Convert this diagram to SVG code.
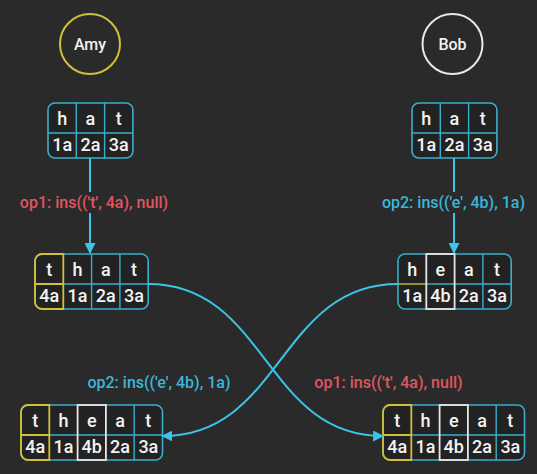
<svg xmlns="http://www.w3.org/2000/svg" width="537" height="474" viewBox="0 0 537 474">
<defs>
<style>
.bg{fill:#2a2a2a}
.tbl{fill:#222222;stroke:#3aafcc;stroke-width:1.6}
.div{stroke:#3aafcc;stroke-width:1.4;fill:none}
.ylw{fill:none;stroke:#d2bf3a;stroke-width:1.8}
.wht{fill:none;stroke:#e6e6e6;stroke-width:1.8}
.ch{font-family:Roboto,"Liberation Sans",sans-serif;font-weight:500;font-size:18px;fill:#f2f2f2;text-anchor:middle}
.name{font-family:Roboto,"Liberation Sans",sans-serif;font-weight:500;font-size:16px;fill:#f2f2f2;text-anchor:middle}
.lbl{font-family:Roboto,"Liberation Sans",sans-serif;font-weight:500;font-size:16px;text-anchor:middle}
.red{fill:#e0565e}
.blu{fill:#3bb6da}
.arr{stroke:#3cc4e8;stroke-width:2;fill:none}
.ah{fill:#3cc4e8}
</style>
<marker id="head" viewBox="0 0 10 10" refX="9" refY="5" markerWidth="11" markerHeight="11" markerUnits="userSpaceOnUse" orient="auto">
<path d="M0,0 L10,5 L0,10 Z" class="ah"/>
</marker>
</defs>
<rect class="bg" x="0" y="0" width="537" height="474"/>

<g id="amy">
<circle cx="90" cy="44" r="30" fill="none" stroke="#d2bf3a" stroke-width="2"/>
<text class="name" x="90" y="50">Amy</text>
</g>
<g id="bob">
<circle cx="452.5" cy="44" r="30" fill="none" stroke="#e8e8e8" stroke-width="2"/>
<text class="name" x="452.5" y="50">Bob</text>
</g>

<g id="amy-hat">
<rect class="tbl" x="48" y="103" width="84.9" height="55" rx="7"/>
<path class="div" d="M76.3,103V158M104.6,103V158M48,133H132.9"/>
<text class="ch" x="62.15" y="125">h</text><text class="ch" x="90.45" y="125">a</text><text class="ch" x="118.75" y="125">t</text>
<text class="ch" x="62.15" y="151">1a</text><text class="ch" x="90.45" y="151">2a</text><text class="ch" x="118.75" y="151">3a</text>
</g>

<g id="bob-hat">
<rect class="tbl" x="412" y="103" width="84.9" height="55" rx="7"/>
<path class="div" d="M440.3,103V158M468.6,103V158M412,133H496.9"/>
<text class="ch" x="426.15" y="125">h</text><text class="ch" x="454.45" y="125">a</text><text class="ch" x="482.75" y="125">t</text>
<text class="ch" x="426.15" y="151">1a</text><text class="ch" x="454.45" y="151">2a</text><text class="ch" x="482.75" y="151">3a</text>
</g>

<g id="amy-that">
<rect class="tbl" x="35" y="254" width="113.2" height="55" rx="7"/>
<path class="div" d="M91.6,254V309M119.9,254V309M63.3,284H148.2"/>
<path class="ylw" d="M63.3,254H42A7,7 0 0 0 35,261V302A7,7 0 0 0 42,309H63.3Z M35,284H63.3"/>
<text class="ch" x="49.15" y="276">t</text><text class="ch" x="77.45" y="276">h</text><text class="ch" x="105.75" y="276">a</text><text class="ch" x="134.05" y="276">t</text>
<text class="ch" x="49.15" y="302">4a</text><text class="ch" x="77.45" y="302">1a</text><text class="ch" x="105.75" y="302">2a</text><text class="ch" x="134.05" y="302">3a</text>
</g>

<g id="bob-heat">
<rect class="tbl" x="398" y="254" width="113.2" height="55" rx="7"/>
<path class="div" d="M482.9,254V309M426.3,284H511.2"/>
<path d="M398,284H426.3" stroke="#b9a83c" stroke-width="1.6"/>
<rect class="wht" x="426.3" y="254" width="28.3" height="55"/>
<text class="ch" x="412.15" y="276">h</text><text class="ch" x="440.45" y="276">e</text><text class="ch" x="468.75" y="276">a</text><text class="ch" x="497.05" y="276">t</text>
<text class="ch" x="412.15" y="302">1a</text><text class="ch" x="440.45" y="302">4b</text><text class="ch" x="468.75" y="302">2a</text><text class="ch" x="497.05" y="302">3a</text>
</g>

<g id="amy-theat">
<rect class="tbl" x="21" y="405" width="141.5" height="55" rx="7"/>
<path class="div" d="M134.2,405V460M49.3,435H162.5"/>
<path class="ylw" d="M49.3,405H28A7,7 0 0 0 21,412V453A7,7 0 0 0 28,460H49.3Z M21,435H49.3"/>
<rect class="wht" x="77.6" y="405" width="28.3" height="55"/>
<text class="ch" x="35.15" y="427">t</text><text class="ch" x="63.45" y="427">h</text><text class="ch" x="91.75" y="427">e</text><text class="ch" x="120.05" y="427">a</text><text class="ch" x="148.35" y="427">t</text>
<text class="ch" x="35.15" y="453">4a</text><text class="ch" x="63.45" y="453">1a</text><text class="ch" x="91.75" y="453">4b</text><text class="ch" x="120.05" y="453">2a</text><text class="ch" x="148.35" y="453">3a</text>
</g>

<g id="bob-theat">
<rect class="tbl" x="383" y="405" width="141.5" height="55" rx="7"/>
<path class="div" d="M496.2,405V460M411.3,435H524.5"/>
<path class="ylw" d="M411.3,405H390A7,7 0 0 0 383,412V453A7,7 0 0 0 390,460H411.3Z M383,435H411.3"/>
<rect class="wht" x="439.6" y="405" width="28.3" height="55"/>
<text class="ch" x="397.15" y="427">t</text><text class="ch" x="425.45" y="427">h</text><text class="ch" x="453.75" y="427">e</text><text class="ch" x="482.05" y="427">a</text><text class="ch" x="510.35" y="427">t</text>
<text class="ch" x="397.15" y="453">4a</text><text class="ch" x="425.45" y="453">1a</text><text class="ch" x="453.75" y="453">4b</text><text class="ch" x="482.05" y="453">2a</text><text class="ch" x="510.35" y="453">3a</text>
</g>

<g id="connectors">
<path class="arr" d="M90,158V192"/>
<path class="arr" d="M90,213V253" marker-end="url(#head)"/>
<path class="arr" d="M454,158V192"/>
<path class="arr" d="M454,213V253" marker-end="url(#head)"/>
<path class="arr" d="M148.2,284C267,284 264,436 383,436" marker-end="url(#head)"/>
<path class="arr" d="M398,284C279,284 282,436 162.5,436" marker-end="url(#head)"/>
<text class="lbl red" x="94" y="208">op1: ins(('t', 4a), null)</text>
<text class="lbl blu" x="453.5" y="208">op2: ins(('e', 4b), 1a)</text>
<text class="lbl blu" x="159" y="388">op2: ins(('e', 4b), 1a)</text>
<text class="lbl red" x="388.5" y="388">op1: ins(('t', 4a), null)</text>
</g>
</svg>
